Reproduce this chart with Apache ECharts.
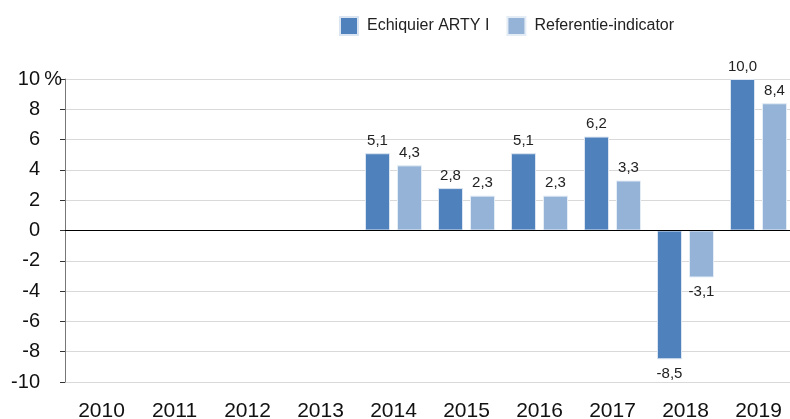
<!DOCTYPE html>
<html>
<head>
<meta charset="utf-8">
<script src="https://cdn.jsdelivr.net/npm/echarts@6/dist/echarts.min.js"></script>
<style>
  html, body { margin: 0; padding: 0; background: #fff; }
  #chart { width: 790px; height: 419px; }
</style>
</head>
<body>
<div id="chart"></div>
<script>
// data
var years = ['2010', '2011', '2012', '2013', '2014', '2015', '2016', '2017', '2018', '2019'];
var fundValues = [null, null, null, null, 5.1, 2.8, 5.1, 6.2, -8.5, 10.0];
var refValues = [null, null, null, null, 4.3, 2.3, 2.3, 3.3, -3.1, 8.4];
var yTicks = [-10, -8, -6, -4, -2, 0, 2, 4, 6, 8, 10];

var fundName = 'Echiquier ARTY I';
var refName = 'Referentie-indicator';

function fmt (v) {
  return v.toFixed(1).replace('.', ',');
}

function barData (arr) {
  return arr.map(function (v) {
    if (v == null) return null;
    return {
      value: v,
      label: { position: v < 0 ? 'bottom' : 'top', distance: v < 0 ? 7 : 5 }
    };
  });
}

var chart = echarts.init(document.getElementById('chart'));
chart.setOption({
  animation: false,
  textStyle: { fontFamily: 'Liberation Sans, Arial, sans-serif' },
  legend: {
    top: 16,
    left: 339,
    padding: 0,
    itemWidth: 18,
    itemHeight: 18,
    itemGap: 17,
    icon: 'rect',
    textStyle: { fontSize: 16, color: '#222', padding: [0, 0, 0, 4] },
    data: [fundName, refName]
  },
  grid: {
    left: 65,
    top: 79,
    width: 730,
    height: 303,
    containLabel: false,
    outerBoundsMode: 'none'
  },
  xAxis: {
    type: 'category',
    data: years,
    axisLine: { lineStyle: { color: '#777' } },
    axisTick: { alignWithLabel: true, length: 5, lineStyle: { color: '#333' } },
    axisLabel: { fontSize: 21, color: '#111', margin: 19 }
  },
  yAxis: {
    type: 'value',
    min: yTicks[0],
    max: yTicks[yTicks.length - 1],
    interval: 2,
    axisLine: { show: true, lineStyle: { color: '#777' } },
    axisTick: { show: true, length: 5, lineStyle: { color: '#333' } },
    axisLabel: {
      fontSize: 20,
      color: '#111',
      margin: 3,
      formatter: function (v) {
        return v === 10 ? '{n|10}{p| %}' : '{n|' + v + '}{g| }';
      },
      rich: {
        n: { fontSize: 20, color: '#111' },
        p: { fontSize: 20, color: '#111', width: 22 },
        g: { fontSize: 20, width: 22 }
      }
    },
    splitLine: { lineStyle: { color: '#d9d9d9' } }
  },
  series: [
    {
      name: fundName,
      type: 'bar',
      barWidth: 25,
      barGap: '28%',
      itemStyle: { color: '#4F81BD', borderColor: '#dbe5f1', borderWidth: 1 },
      label: {
        show: true,
        fontSize: 15,
        color: '#222',
        formatter: function (p) { return fmt(p.value); }
      },
      data: barData(fundValues),
      markLine: {
        silent: true,
        symbol: 'none',
        label: { show: false },
        lineStyle: { color: '#000', type: 'solid', width: 1 },
        data: [{ yAxis: 0 }]
      }
    },
    {
      name: refName,
      type: 'bar',
      barWidth: 25,
      barGap: '28%',
      itemStyle: { color: '#95B3D7', borderColor: '#e4ecf5', borderWidth: 1 },
      label: {
        show: true,
        fontSize: 15,
        color: '#222',
        formatter: function (p) { return fmt(p.value); }
      },
      data: barData(refValues)
    }
  ]
});
</script>
</body>
</html>
